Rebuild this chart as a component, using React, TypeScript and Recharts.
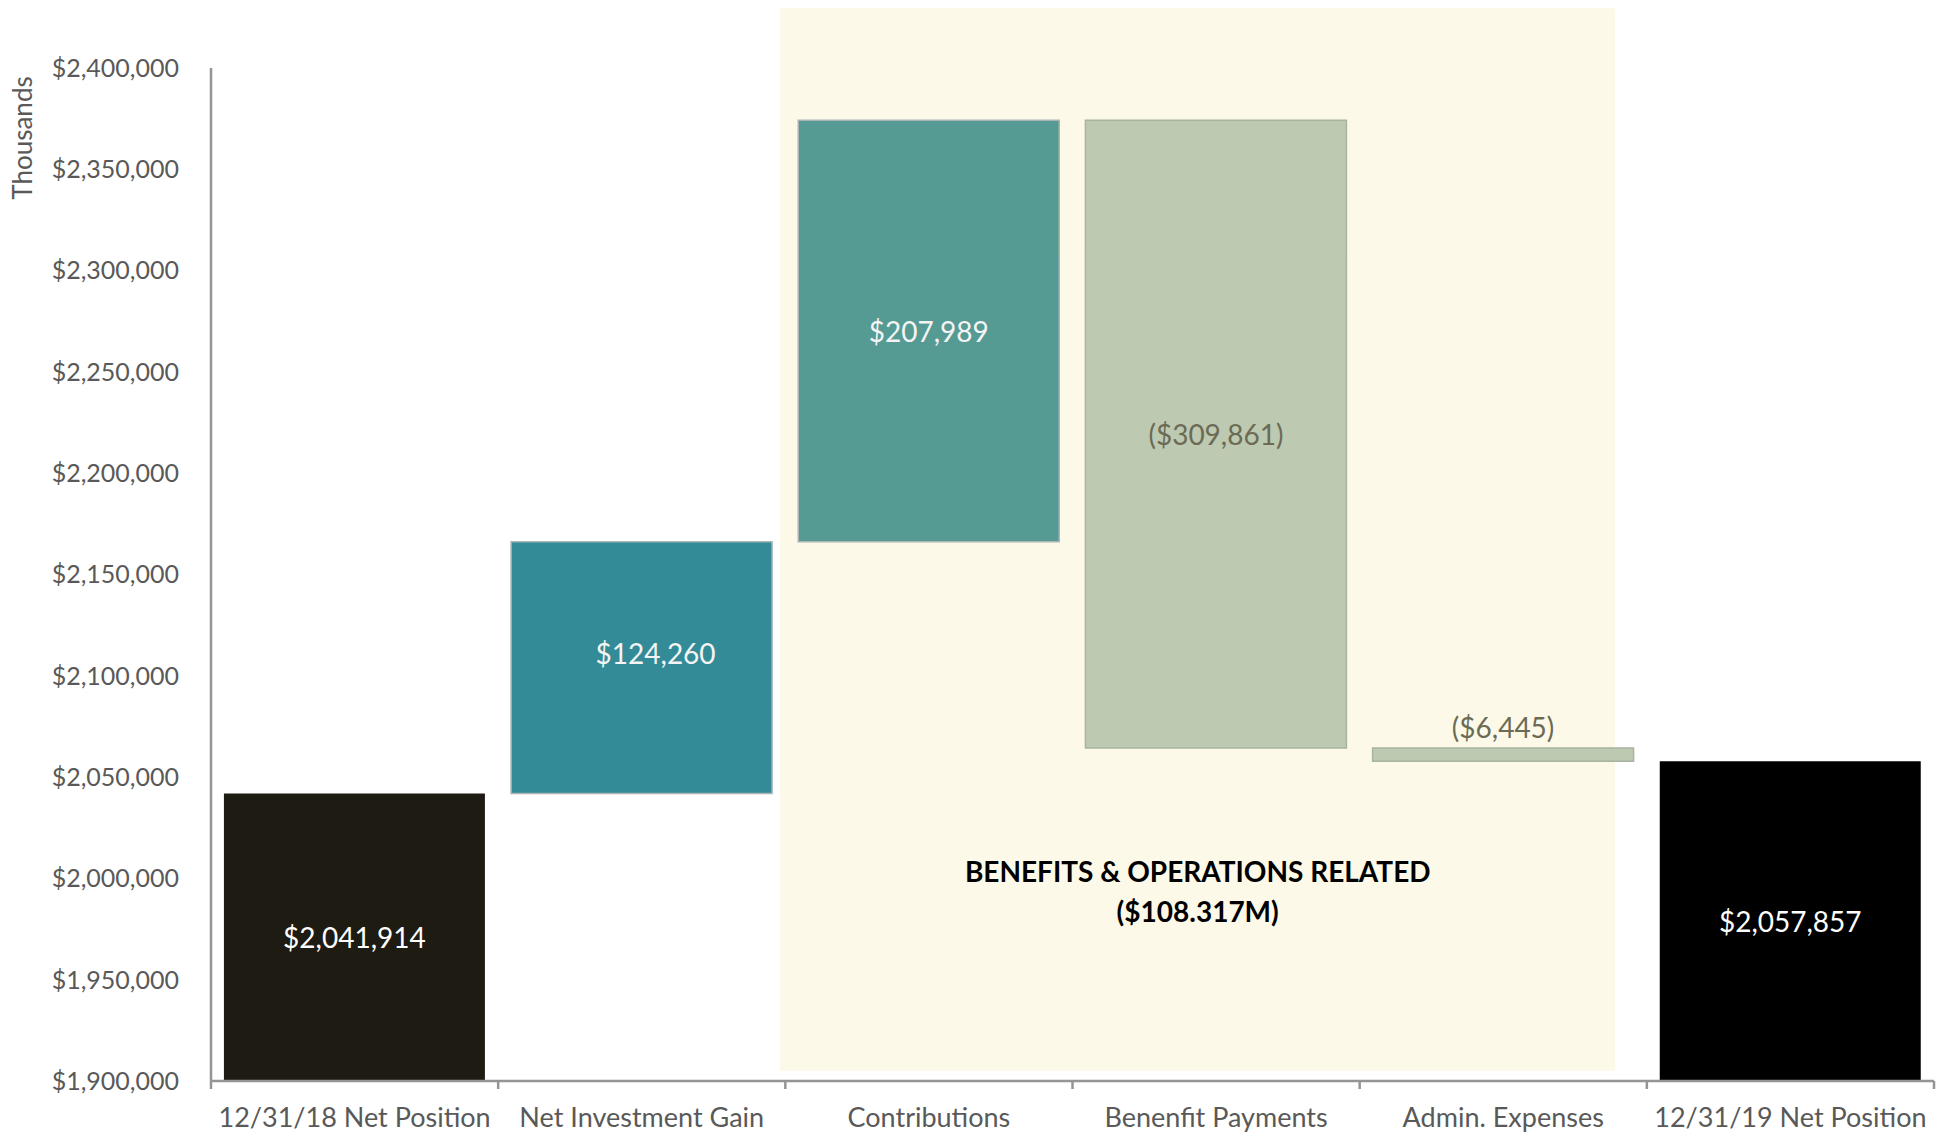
import React from 'react';
import { BarChart, Bar, XAxis, YAxis, Cell, LabelList, ReferenceArea } from 'recharts';

// ---------- data ----------
const categories = [
  '12/31/18 Net Position',
  'Net Investment Gain',
  'Contributions',
  'Benenfit Payments',
  'Admin. Expenses',
  '12/31/19 Net Position',
];
const changes = [2041914, 124260, 207989, -309861, -6445, 2057857];
const kinds = ['total', 'delta', 'delta', 'delta', 'delta', 'total'];
const yTicks = [1900000, 1950000, 2000000, 2050000, 2100000, 2150000, 2200000, 2250000, 2300000, 2350000, 2400000];
const yAxisTitle = 'Thousands';
const shadeFrom = 'Contributions';
const shadeTo = 'Admin. Expenses';
const shadeBottomValue = 1905000;
const shadeTopValue = 2429500;
const annotationLines = ['BENEFITS & OPERATIONS RELATED', '($108.317M)'];

// ---------- styles ----------
const FONT = 'Lato, "Noto Sans", sans-serif';
const BAR_FILLS = ['#1E1B13', '#338B98', '#559A93', '#BDC9B1', '#BDC9B1', '#000000'];
const BAR_STROKES = ['none', '#A8B4B6', '#A8B4B6', '#A8B4A0', '#A8B4A0', 'none'];
const LABEL_COLORS = ['#FFFFFF', '#F4F4F4', '#F4F4F4', '#6B6B55', '#6B6B55', '#FFFFFF'];
const LABEL_NUDGE: [number, number][] = [[0, 0], [14, -15], [0, 0], [0, 0], [0, 0], [0, 0]];
const AXIS_COLOR = '#959595';
const TEXT_GRAY = '#595959';
const SHADE_FILL = '#FDF9E8';

const W = 1948;
const H = 1134;
const MARGIN = { top: 68, right: 14, bottom: 0, left: 0 };
const Y_AXIS_W = 211;
const X_AXIS_H = 53;
const TICK_SIZE = 8;
const TICK_MARGIN = 19;
const PLOT_W = W - MARGIN.left - MARGIN.right - Y_AXIS_W;

const Y_MIN = yTicks[0];
const Y_MAX = yTicks[yTicks.length - 1];

const money = (v: number) => '$' + Math.abs(v).toLocaleString('en-US');
const fmtLabel = (v: number, kind: string) => (kind === 'total' || v >= 0 ? money(v) : '(' + money(v) + ')');

const rows = (() => {
  let running = 0;
  return categories.map((name, i) => {
    const v = changes[i];
    let lo: number;
    let hi: number;
    if (kinds[i] === 'total') {
      lo = Y_MIN;
      hi = v;
      running = v;
    } else {
      const start = running;
      const end = running + v;
      lo = Math.min(start, end);
      hi = Math.max(start, end);
      running = end;
    }
    return { name, range: [lo, hi], label: fmtLabel(v, kinds[i]) };
  });
})();

const XTick = (props: any) => {
  const { x, y, payload, index, visibleTicksCount } = props;
  const n = visibleTicksCount || categories.length;
  const step = typeof props.width === 'number' && props.width > 0 ? props.width / n : PLOT_W / n;
  const axisY = y - TICK_SIZE - TICK_MARGIN;
  const left = x - step / 2;
  const right = x + step / 2;
  return (
    <g>
      <line x1={left} y1={axisY} x2={left} y2={axisY + TICK_SIZE} stroke={AXIS_COLOR} strokeWidth={2.5} />
      {index === n - 1 && (
        <line x1={right} y1={axisY} x2={right} y2={axisY + TICK_SIZE} stroke={AXIS_COLOR} strokeWidth={2.5} />
      )}
      <text x={x} y={y} dy="0.71em" textAnchor="middle" fill={TEXT_GRAY} fontSize={27} fontFamily={FONT}>
        {payload.value}
      </text>
    </g>
  );
};

const ShadeShape = (props: any) => {
  const { x, y, width, height } = props;
  const span = categories.indexOf(shadeTo) - categories.indexOf(shadeFrom) + 1;
  const step = width / span;
  const left = x - 0.018 * step;
  const right = x + width - 0.11 * step;
  const cx = (left + right) / 2;
  const line1Y = y + height * 0.812;
  const line2Y = line1Y + 40;
  return (
    <g>
      <rect x={left} y={y} width={right - left} height={height} fill={SHADE_FILL} />
      <text x={cx} y={line1Y} textAnchor="middle" dominantBaseline="central" fontFamily={FONT} fontWeight={700} fontSize={28} fill="#000">
        {annotationLines[0]}
      </text>
      <text x={cx} y={line2Y} textAnchor="middle" dominantBaseline="central" fontFamily={FONT} fontWeight={700} fontSize={28} fill="#000">
        {annotationLines[1]}
      </text>
    </g>
  );
};

const BarLabel = (props: any) => {
  const { x, y, width, height, value, index } = props;
  const cx = x + width / 2;
  const h = Math.abs(height);
  const top = Math.min(y, y + height);
  const [dx, dy] = LABEL_NUDGE[index] || [0, 0];
  const ly = h < 30 ? top - 21 : top + h / 2;
  return (
    <text
      x={cx + dx}
      y={ly + dy}
      textAnchor="middle"
      dominantBaseline="central"
      fill={LABEL_COLORS[index]}
      fontSize={28}
      fontFamily={FONT}
    >
      {value}
    </text>
  );
};

const YTitle = (props: any) => {
  const vb = props.viewBox || { x: 0, y: MARGIN.top };
  const tx = vb.x + 22;
  const ty = vb.y + 70;
  return (
    <text
      x={tx}
      y={ty}
      transform={`rotate(-90, ${tx}, ${ty})`}
      textAnchor="middle"
      dominantBaseline="central"
      fill={TEXT_GRAY}
      fontSize={26}
      fontFamily={FONT}
    >
      {yAxisTitle}
    </text>
  );
};

export default function App() {
  return (
    <div style={{ position: 'absolute', left: 0, top: 0, width: W, height: H, background: '#fff' }}>
      <BarChart width={W} height={H} data={rows} margin={MARGIN} barCategoryGap="4.5%">
        <ReferenceArea
          x1={shadeFrom}
          x2={shadeTo}
          y1={shadeBottomValue}
          y2={shadeTopValue}
          ifOverflow="visible"
          shape={ShadeShape}
        />
        <XAxis
          dataKey="name"
          height={X_AXIS_H}
          interval={0}
          tickSize={TICK_SIZE}
          tickMargin={TICK_MARGIN}
          tickLine={false}
          axisLine={{ stroke: AXIS_COLOR, strokeWidth: 2.5 }}
          tick={<XTick />}
        />
        <YAxis
          width={Y_AXIS_W}
          domain={[Y_MIN, Y_MAX]}
          ticks={yTicks}
          allowDataOverflow
          tickLine={false}
          tickSize={6}
          tickMargin={26}
          axisLine={{ stroke: AXIS_COLOR, strokeWidth: 2.5 }}
          tick={{ fill: TEXT_GRAY, fontSize: 25, fontFamily: FONT }}
          tickFormatter={(v: number) => money(v)}
          label={<YTitle />}
        />
        <Bar dataKey="range" isAnimationActive={false}>
          {rows.map((r, i) => (
            <Cell key={r.name} fill={BAR_FILLS[i]} stroke={BAR_STROKES[i]} strokeWidth={1.5} />
          ))}
          <LabelList dataKey="label" content={<BarLabel />} />
        </Bar>
      </BarChart>
    </div>
  );
}
